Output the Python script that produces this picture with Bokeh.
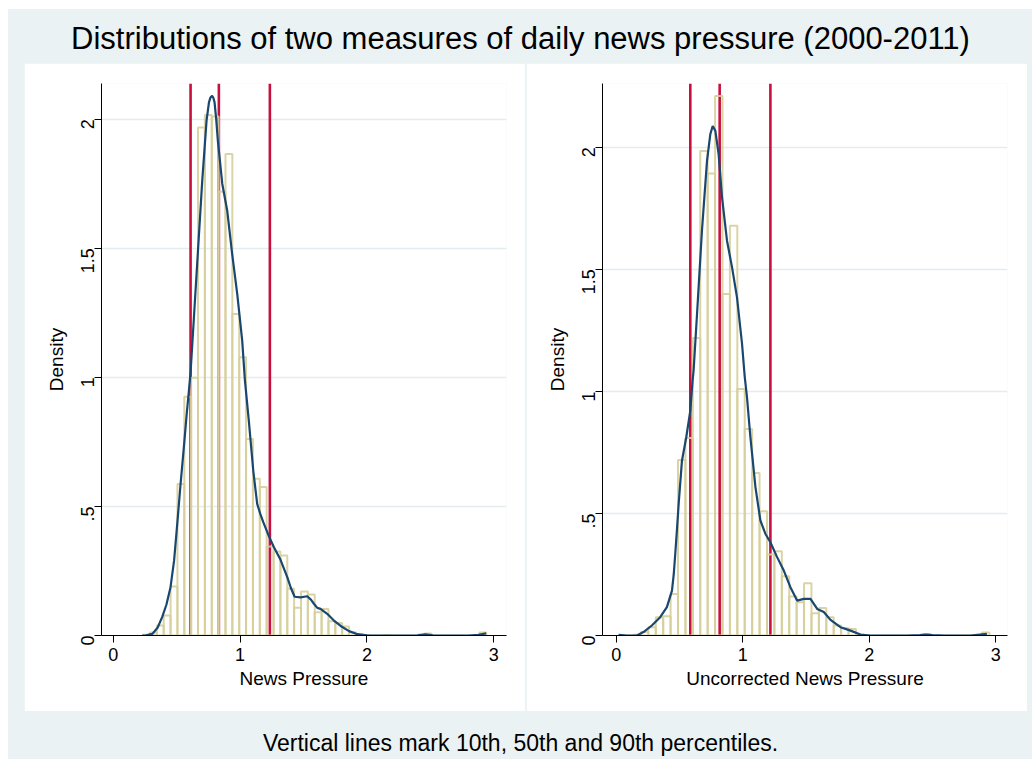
import math
import numpy as np
from bokeh.plotting import figure
from bokeh.layouts import row, column
from bokeh.models import Range1d, FixedTicker, Label, Spacer
from bokeh.embed import file_html
from bokeh.resources import INLINE

# ---- data -------------------------------------------------------------
# Histogram of news pressure: 50 equal-width bins
np_bin_start = 0.236
np_bin_width = 0.0541
np_density = [0.003, 0.012, 0.039, 0.077, 0.190, 0.587, 0.925, 0.998, 1.968, 2.016,
              2.010, 1.719, 1.865, 1.245, 1.078, 0.761, 0.607, 0.575, 0.345, 0.325,
              0.310, 0.181, 0.107, 0.170, 0.159, 0.090, 0.103, 0.055, 0.048, 0.035,
              0.013, 0.004, 0.002, 0.000, 0.000, 0.002, 0.000, 0.000, 0.000, 0.000,
              0.004, 0.008, 0.000, 0.000, 0.000, 0.000, 0.000, 0.000, 0.000, 0.012]
# kernel density estimate of news pressure
np_kde_x = [0.228, 0.26, 0.308, 0.35, 0.386, 0.42, 0.452, 0.48, 0.505, 0.53, 0.557, 0.58,
            0.597, 0.61, 0.635, 0.662, 0.702, 0.736, 0.755, 0.767, 0.78, 0.79, 0.799,
            0.812, 0.825, 0.86, 0.899, 0.938, 0.978, 1.017, 1.038, 1.069, 1.104, 1.135,
            1.16, 1.183, 1.227, 1.267, 1.319, 1.372, 1.40, 1.43, 1.477, 1.53, 1.56, 1.582,
            1.609, 1.634, 1.687, 1.74, 1.793, 1.859, 1.925, 2.0, 2.1, 2.3, 2.4, 2.46,
            2.52, 2.6, 2.8, 2.88, 2.94]
np_kde_y = [0.0, 0.001, 0.006, 0.03, 0.071, 0.12, 0.187, 0.29, 0.432, 0.58, 0.729, 0.86,
            0.949, 1.02, 1.22, 1.439, 1.762, 1.994, 2.065, 2.084, 2.09, 2.082, 2.065,
            2.0, 1.917, 1.749, 1.645, 1.477, 1.322, 1.142, 0.99, 0.832, 0.639, 0.51,
            0.47, 0.439, 0.385, 0.342, 0.293, 0.226, 0.185, 0.15, 0.148, 0.152, 0.138,
            0.123, 0.107, 0.103, 0.084, 0.058, 0.037, 0.017, 0.005, 0.001, 0.0, 0.0,
            0.001, 0.004, 0.001, 0.0, 0.0, 0.003, 0.008]
np_percentiles = [0.61, 0.833, 1.235]   # 10th, 50th, 90th

# Histogram of uncorrected news pressure: 50 equal-width bins
unc_bin_start = 0.02
unc_bin_width = 0.0586
unc_density = [0.000, 0.000, 0.003, 0.014, 0.034, 0.075, 0.079, 0.170, 0.719, 0.809,
               1.219, 1.985, 1.892, 2.210, 1.399, 1.678, 1.010, 0.846, 0.666, 0.509,
               0.332, 0.345, 0.243, 0.160, 0.136, 0.214, 0.091, 0.113, 0.075, 0.041,
               0.031, 0.027, 0.003, 0.000, 0.000, 0.000, 0.000, 0.000, 0.000, 0.000,
               0.000, 0.006, 0.000, 0.000, 0.000, 0.000, 0.000, 0.000, 0.000, 0.012]
unc_kde_x = [0.019, 0.084, 0.164, 0.216, 0.282, 0.348, 0.401, 0.441, 0.455, 0.467, 0.48,
             0.494, 0.52, 0.554, 0.586, 0.604, 0.612, 0.639, 0.678, 0.718, 0.744, 0.763,
             0.784, 0.81, 0.837, 0.876, 0.916, 0.955, 0.995, 1.016, 1.034, 1.061, 1.101,
             1.14, 1.18, 1.219, 1.272, 1.325, 1.377, 1.43, 1.483, 1.536, 1.589, 1.641,
             1.694, 1.773, 1.852, 1.931, 2.01, 2.3, 2.4, 2.45, 2.5, 2.6, 2.8, 2.93]
unc_kde_y = [0.003, 0.0, 0.0, 0.014, 0.041, 0.075, 0.116, 0.184, 0.25, 0.334, 0.43,
             0.539, 0.716, 0.812, 0.921, 1.044, 1.085, 1.316, 1.658, 1.944, 2.053, 2.087,
             2.067, 1.971, 1.794, 1.617, 1.508, 1.385, 1.194, 1.06, 0.976, 0.812, 0.607,
             0.471, 0.416, 0.382, 0.321, 0.266, 0.198, 0.143, 0.15, 0.15, 0.109, 0.096,
             0.064, 0.034, 0.02, 0.004, 0.0, 0.0, 0.002, 0.004, 0.002, 0.0, 0.0, 0.007]
unc_percentiles = [0.586, 0.818, 1.219]

x_ticks = [0, 1, 2, 3]
y_ticks = [0, 0.5, 1, 1.5, 2]
y_tick_labels = {0: "0", 0.5: ".5", 1: "1", 1.5: "1.5", 2: "2"}

TITLE = "Distributions of two measures of daily news pressure (2000-2011)"
NOTE = "Vertical lines mark 10th, 50th and 90th percentiles."

# ---- styling ----------------------------------------------------------
BG = "#EAF2F3"
GRID = "#E3ECEF"
KHAKI = "#D6CF9B"
NAVY = "#1A476F"
RED = "#C8103E"
FONT = "Liberation Sans"


def panel(bin_start, bin_width, density, kde_x, kde_y, pcts, xr, yr, xlabel,
          border_left, border_right):
    p = figure(width=501, height=648, x_range=Range1d(*xr), y_range=Range1d(*yr),
               toolbar_location=None, output_backend="svg",
               min_border_left=border_left, min_border_right=border_right,
               min_border_top=20, min_border_bottom=76)
    p.background_fill_color = "white"
    p.border_fill_color = "white"
    p.outline_line_color = None

    p.xgrid.visible = False
    p.ygrid.grid_line_color = GRID
    p.ygrid.grid_line_width = 1.3

    # percentile markers sit beneath the bars
    p.segment(x0=pcts, y0=[0] * len(pcts), x1=pcts, y1=[yr[1]] * len(pcts),
              line_color=RED, line_width=2.6)

    lefts = bin_start + bin_width * np.arange(len(density))
    p.quad(left=lefts, right=lefts + bin_width, bottom=0, top=density,
           fill_color=None, line_color=KHAKI, line_width=2, line_alpha=0.9)

    p.line(kde_x, kde_y, line_color=NAVY, line_width=2.2)

    for ax in (p.xaxis, p.yaxis):
        ax.axis_line_color = "black"
        ax.major_tick_line_color = "black"
        ax.minor_tick_line_color = None
        ax.major_tick_out = 7
        ax.major_tick_in = 0
        ax.major_label_text_font = FONT
        ax.major_label_text_font_size = "18px"
        ax.major_label_text_color = "black"
        ax.axis_label_text_font = FONT
        ax.axis_label_text_font_size = "19px"
        ax.axis_label_text_font_style = "normal"
        ax.axis_label_text_color = "black"

    p.xaxis.ticker = FixedTicker(ticks=x_ticks)
    p.xaxis.axis_label = xlabel
    p.xaxis.major_label_standoff = 5
    p.xaxis.axis_label_standoff = 4

    p.yaxis.ticker = FixedTicker(ticks=y_ticks)
    p.yaxis.major_label_overrides = y_tick_labels
    p.yaxis.major_label_orientation = math.pi / 2
    p.yaxis.axis_label = "Density"
    p.yaxis.major_label_standoff = 7
    p.yaxis.axis_label_standoff = 5
    return p


p1 = panel(np_bin_start, np_bin_width, np_density, np_kde_x, np_kde_y, np_percentiles,
           (-0.092, 3.1), (0, 2.138), "News Pressure", 77, 19)
p2 = panel(unc_bin_start, unc_bin_width, unc_density, unc_kde_x, unc_kde_y,
           unc_percentiles, (-0.108, 3.093), (0, 2.261), "Uncorrected News Pressure", 76, 20)


def text_band(text, height, y, size):
    f = figure(width=1024, height=height, x_range=(0, 1024), y_range=(0, height),
               toolbar_location=None, output_backend="svg",
               x_axis_location=None, y_axis_location=None, min_border=0)
    f.grid.visible = False
    f.outline_line_color = None
    f.background_fill_color = BG
    f.border_fill_color = BG
    f.add_layout(Label(x=512, y=y, text=text, text_align="center",
                       text_baseline="middle", text_font=FONT,
                       text_font_size=size, text_color="black"))
    return f


title_band = text_band(TITLE, 54, 25, "31px")
note_band = text_band(NOTE, 48, 17, "23px")

panels = row(Spacer(width=16, height=648), p1, Spacer(width=1, height=648), p2,
             Spacer(width=5, height=648), spacing=0)
page = column(title_band, panels, note_band, spacing=0,
              styles={"background-color": BG}, margin=(9, 0, 0, 8))

open("out.html", "w").write(file_html(page, INLINE))
